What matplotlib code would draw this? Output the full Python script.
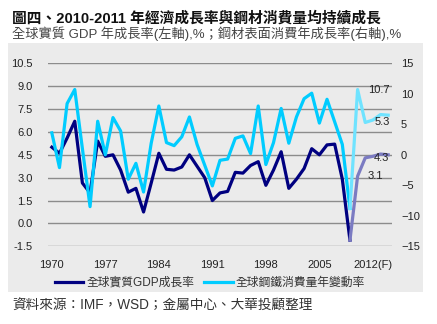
import numpy as np
import matplotlib
matplotlib.use("Agg")
import matplotlib.pyplot as plt
from matplotlib.patches import Rectangle
from matplotlib.font_manager import FontProperties

# 年度 1970-2014（2009 之後為預估）
years = np.arange(1970, 2015)
gdp = [5.0, 4.6, 5.6, 6.7, 2.65, 2.0, 5.4, 4.4, 4.5, 3.5,
       2.05, 2.3, 0.75, 2.65, 4.6, 3.55, 3.5, 3.7, 4.5, 3.75,
       3.0, 1.5, 2.0, 2.1, 3.35, 3.3, 3.8, 4.05, 2.5, 3.5,
       4.7, 2.3, 2.9, 3.6, 4.9, 4.5, 5.15, 5.2, 2.9, -1.1,
       3.1, 4.3, 4.4, 4.55, 4.5]
steel = [3.6, -2.1, 8.4, 10.7, 1.0, -8.5, 5.5, 0.0, 6.1, 3.9,
         -4.0, -1.4, -6.1, 1.9, 8.0, 2.0, 1.5, 2.95, 6.2, 1.7,
         -1.7, -5.1, -0.9, -0.7, 2.7, 3.1, 0.2, 8.0, -1.6, 2.0,
         7.6, 1.9, 6.2, 9.2, 10.1, 5.2, 9.1, 5.4, 1.7, -8.8,
         10.7, 5.3, 5.7, 6.6, 6.5]
fc_start = 2009
tick_years = [1970, 1977, 1984, 1991, 1998, 2005, 2012]
tick_labels = ['1970', '1977', '1984', '1991', '1998', '2005', '2012(F)']
gdp_labels = {2010: 3.1, 2011: 4.3}
steel_labels = {2010: 10.7, 2011: 5.3}

cjk = ['Liberation Sans', 'Noto Sans CJK TC']
plt.rcParams['font.family'] = cjk

W, H = 437, 324
fig = plt.figure(figsize=(W / 100, H / 100), dpi=100)
panel = Rectangle((8 / W, 1 - 292 / H), 415 / W, 249 / H,
                  transform=fig.transFigure, facecolor='#EBEBEB',
                  edgecolor='none', zorder=-10)
fig.patches.append(panel)

ax = fig.add_axes([48 / W, 1 - 246.3 / H, 344 / W, 183 / H])
ax.set_facecolor('none')
ax2 = ax.twinx()
ax2.set_facecolor('none')

i = list(years).index(fc_start)
ax.plot(years[:i + 1], gdp[:i + 1], color='#000080', lw=2.3, zorder=3)
ax.plot(years[i:], gdp[i:], color='#7B7BC2', lw=2.3, zorder=3)
ax2.plot(years[:i + 1], steel[:i + 1], color='#00CCFF', lw=2.3, zorder=3)
ax2.plot(years[i:], steel[i:], color='#6FE3FF', lw=2.3, zorder=3)

ax.set_xlim(1969.5, 2014.5)
ax.set_ylim(-1.5, 10.5)
ax2.set_ylim(-15, 15)
ax.set_yticks(np.arange(-1.5, 10.6, 1.5))
ax.set_yticklabels([f'{v:.1f}' for v in np.arange(-1.5, 10.6, 1.5)])
ax2.set_yticks(np.arange(-15, 16, 5))
ax.set_xticks(tick_years)
ax.set_xticklabels(tick_labels)
ax.yaxis.grid(True, color='#8C8C8C', lw=1)
ax.set_axisbelow(True)

for a in (ax, ax2):
    for s in a.spines.values():
        s.set_visible(False)
    a.tick_params(length=0, labelsize=8, colors='#222222')
ax.tick_params(axis='y', pad=11)
ax.tick_params(axis='x', pad=10)
ax2.tick_params(axis='y', pad=6.5)

for yr, v in steel_labels.items():
    ax2.annotate(f'{v}', (yr, v), xytext=(15 if yr == 2010 else 12, 0),
                 textcoords='offset points', ha='center', va='center',
                 fontsize=8, color='#222222')
for yr, v in gdp_labels.items():
    ax.annotate(f'{v}', (yr, v), xytext=(12.5 if yr == 2010 else 12, 0),
                textcoords='offset points', ha='center', va='center',
                fontsize=8, color='#222222')

h1, = ax.plot([], [], color='#000080', lw=2.3)
h2, = ax.plot([], [], color='#00CCFF', lw=2.3)
fig.legend([h1, h2], ['全球實質GDP成長率', '全球鋼鐵消費量年變動率'],
           loc='center', bbox_to_anchor=(210 / W, 1 - 283 / H), ncol=2,
           frameon=False, handlelength=2.4, handletextpad=0.25,
           columnspacing=0.85, prop=FontProperties(family=cjk, size=8.5),
           labelcolor='#333333')

fig.text(12 / W, 1 - 18 / H, '圖四、2010-2011 年經濟成長率與鋼材消費量均持續成長',
         fontsize=10.6, fontweight='bold', va='center', color='#111111')
fig.text(12 / W, 1 - 34 / H, '全球實質 GDP 年成長率(左軸),%；鋼材表面消費年成長率(右軸),%',
         fontsize=9.5, va='center', color='#444444')
fig.text(12 / W, 1 - 306 / H, '資料來源：IMF，WSD；金屬中心、大華投顧整理',
         fontsize=9.8, va='center', color='#333333')

fig.savefig('out.png', dpi=100)
